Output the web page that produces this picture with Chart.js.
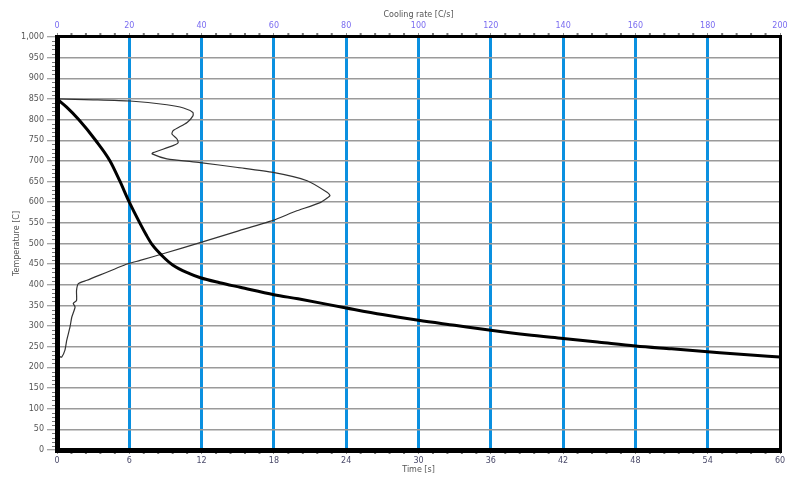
<!DOCTYPE html>
<html>
<head>
<meta charset="utf-8">
<script src="https://cdn.jsdelivr.net/npm/chart.js@4.4.1/dist/chart.umd.min.js"></script>
<style>
  html, body { margin: 0; padding: 0; background: #fff; }
  #wrap { width: 800px; height: 485px; }
</style>
</head>
<body>
<div id="wrap"><canvas id="plot" width="800" height="485"></canvas></div>
<script>
// temperature vs time (thick curve, bottom axis)
const timeSec = [0, 0.8, 1.8, 3.2, 4.4, 5.2, 6.0, 6.9, 7.4, 7.9, 8.7, 9.6, 11.0, 11.9, 13.5, 15.2, 18, 20, 24, 27, 30, 33, 36, 39, 42, 45, 48, 51, 54, 57, 60];
const timeTemp = [850, 830, 800, 750, 700, 652, 600, 548, 521, 497, 471, 448, 427, 417, 405, 394, 376, 366, 344, 328, 314, 302, 290, 279, 270, 261, 252, 245, 238, 231, 225];

// temperature vs cooling rate (thin curve, top axis)
const coolRate = [0, 10, 20.2, 30.4, 35, 37.6, 37.6, 36, 32.1, 31.8, 33.2, 33.5, 32.1, 26.6, 26.3, 30.4, 39.6, 50, 59.8, 69.2, 74.7, 75.5, 72.8, 66, 59.8, 50, 39.6, 30, 23, 19.6, 8.3, 5.9, 5.4, 5.4, 4.5, 5, 4.1, 3.6, 2.7, 2.2, 1.3, 0.8];
const coolTemp = [850, 848, 845, 836, 828, 817, 809, 793, 773, 765, 753, 744, 737, 720, 717, 705, 696, 684, 672, 652, 624, 616, 599, 578, 556, 530, 502, 477, 459, 451, 411, 403, 386, 362, 355, 346, 322, 298, 266, 242, 225, 226];

const font = { family: 'DejaVu Sans', size: 8 };

// minor ticks + heavy frame like the original software
const framePlugin = {
  id: 'frame',
  afterDraw(chart) {
    const { ctx, chartArea: a, scales } = chart;
    ctx.save();
    ctx.strokeStyle = '#777';
    ctx.lineWidth = 1;
    // minor ticks on y (every 10)
    for (let v = 0; v <= 1000; v += 10) {
      if (v % 50 === 0) continue;
      const y = Math.round(scales.y.getPixelForValue(v)) + 0.5;
      ctx.beginPath(); ctx.moveTo(a.left - 5, y); ctx.lineTo(a.left, y); ctx.stroke();
    }
    // minor ticks on top/bottom
    ctx.fillStyle = '#777';
    for (let v = 0; v <= 60; v += 1.2) {
      if (Math.abs(v / 6 - Math.round(v / 6)) < 0.01) continue;
      const x = scales.x.getPixelForValue(v);
      ctx.fillRect(x - 1, a.bottom + 1, 2, 3);
    }
    for (let v = 0; v <= 200; v += 4) {
      if (v % 20 === 0) continue;
      const x = scales.x2.getPixelForValue(v);
      ctx.fillRect(x - 1, a.top - 4, 2, 3);
    }
    // frame
    ctx.fillStyle = '#000';
    ctx.fillRect(a.left - 2, a.top - 1, 5, a.bottom - a.top + 3);
    ctx.fillRect(a.left - 2, a.bottom - 2, a.right - a.left + 4, 5);
    ctx.fillRect(a.left - 2, a.top - 2, a.right - a.left + 4, 3);
    ctx.fillRect(a.right - 1, a.top - 2, 3, a.bottom - a.top + 4);
    ctx.restore();
  }
};

new Chart(document.getElementById('plot'), {
  type: 'scatter',
  data: {
    datasets: [
      {
        label: 'Temperature',
        data: timeSec.map((t, i) => ({ x: t, y: timeTemp[i] })),
        xAxisID: 'x',
        yAxisID: 'y',
        showLine: true,
        borderColor: '#000',
        borderWidth: 3,
        pointRadius: 0,
        cubicInterpolationMode: 'monotone'
      },
      {
        label: 'Cooling rate',
        data: coolRate.map((c, i) => ({ x: c, y: coolTemp[i] })),
        xAxisID: 'x2',
        yAxisID: 'y',
        showLine: true,
        borderColor: '#333',
        borderWidth: 1.2,
        pointRadius: 0,
        tension: 0.2
      }
    ]
  },
  options: {
    responsive: false,
    animation: false,
    layout: { padding: { left: 12, right: 20, top: 10, bottom: 10 } },
    plugins: { legend: { display: false }, tooltip: { enabled: false } },
    scales: {
      x: {
        type: 'linear',
        position: 'bottom',
        min: 0, max: 60,
        afterFit(s) { s.height = 25; },
        ticks: { stepSize: 6, color: '#4a4a6a', font: font, padding: 2, maxRotation: 0 },
        grid: { color: '#0a90e0', lineWidth: 3, tickColor: '#888', tickLength: 4, tickWidth: 1 },
        border: { display: false },
        title: { display: true, text: 'Time [s]', color: '#555', font: font, padding: { top: 1, bottom: 0 } }
      },
      x2: {
        type: 'linear',
        position: 'top',
        min: 0, max: 200,
        afterFit(s) { s.height = 27; },
        ticks: { stepSize: 20, color: '#7a6cf0', font: font, padding: 2, maxRotation: 0 },
        grid: { drawOnChartArea: false, tickColor: '#888', tickLength: 4, tickWidth: 1 },
        border: { display: false },
        title: { display: true, text: 'Cooling rate [C/s]', color: '#555', font: font, padding: { top: 0, bottom: 1 } }
      },
      y: {
        type: 'linear',
        min: 0, max: 1000,
        afterFit(s) { s.width = 45; },
        ticks: { stepSize: 50, color: '#555', font: font, padding: 3 },
        grid: { color: '#9a9a9a', lineWidth: 1.5, tickColor: '#888', tickLength: 10, tickWidth: 1 },
        border: { display: false },
        title: { display: true, text: 'Temperature [C]', color: '#555', font: font, padding: 0 }
      }
    }
  },
  plugins: [framePlugin]
});
</script>
</body>
</html>
